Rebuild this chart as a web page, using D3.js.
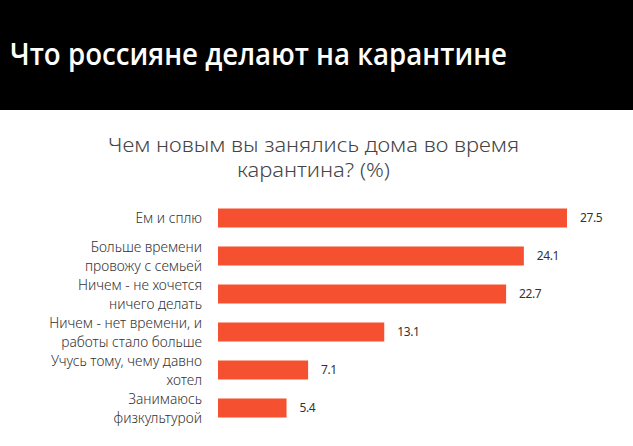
<!DOCTYPE html>
<html lang="ru">
<head>
<meta charset="UTF-8">
<title>Что россияне делают на карантине</title>
<script src="https://cdnjs.cloudflare.com/ajax/libs/d3/7.8.5/d3.min.js"></script>
<style>
    body { margin: 0; background: #fff; }
    svg { display: block; font-family: "Noto Sans", "Open Sans", sans-serif; }
</style>
</head>
<body>
<div id="chart"></div>
<script>
    // данные
    const categories = [
        ['Ем и сплю'],
        ['Больше времени', 'провожу с семьей'],
        ['Ничем - не хочется', 'ничего делать'],
        ['Ничем - нет времени, и', 'работы стало больше'],
        ['Учусь тому, чему давно', 'хотел'],
        ['Занимаюсь', 'физкультурой']
    ];
    const values = [27.5, 24.1, 22.7, 13.1, 7.1, 5.4];
    const title = 'Что россияне делают на карантине';
    const subtitle = ['Чем новым вы занялись дома во время', 'карантина? (%)'];
    const subtitleWidths = [411, 153];

    const width = 633;
    const height = 446;
    const margin = {top: 199, left: 218, bottom: 8};

    const svg = d3.select('#chart')
        .append('svg')
        .attr('width', width)
        .attr('height', height);

    // шапка
    svg.append('rect')
        .attr('x', 0).attr('y', 0)
        .attr('width', width).attr('height', 110)
        .attr('fill', '#000');

    svg.append('text')
        .attr('x', 10).attr('y', 65)
        .attr('fill', '#fff')
        .attr('font-family', '"Open Sans", "Noto Sans", sans-serif')
        .attr('font-size', 30)
        .attr('font-weight', 600)
        .attr('textLength', 497)
        .attr('lengthAdjust', 'spacingAndGlyphs')
        .text(title);

    svg.selectAll('.sub')
        .data(subtitle)
        .enter()
        .append('text')
        .attr('class', 'sub')
        .attr('x', (d, i) => 313.5 - subtitleWidths[i] / 2)
        .attr('y', (d, i) => 152 + i * 25)
        .attr('fill', '#444')
        .attr('font-size', 20)
        .attr('font-weight', 300)
        .attr('textLength', (d, i) => subtitleWidths[i])
        .attr('lengthAdjust', 'spacingAndGlyphs')
        .text(d => d);

    const x = d3.scaleLinear()
        .domain([0, 27.5])
        .range([margin.left, 567]);

    const y = d3.scaleBand()
        .domain(d3.range(values.length))
        .range([margin.top, margin.top + 38 * values.length])
        .paddingInner(0.5)
        .paddingOuter(0.25);

    svg.selectAll('.bar')
        .data(values)
        .enter()
        .append('rect')
        .attr('class', 'bar')
        .attr('x', x(0))
        .attr('y', (d, i) => y(i))
        .attr('width', d => x(d) - x(0))
        .attr('height', y.bandwidth())
        .attr('fill', '#f5502f');

    svg.selectAll('.val')
        .data(values)
        .enter()
        .append('text')
        .attr('class', 'val')
        .attr('x', d => x(d) + 13)
        .attr('y', (d, i) => y(i) + y.bandwidth() / 2)
        .attr('dy', '0.35em')
        .attr('fill', '#333')
        .attr('font-size', 12)
        .attr('letter-spacing', -0.4)
        .text(d => d);

    const lab = svg.selectAll('.lab')
        .data(categories)
        .enter()
        .append('text')
        .attr('class', 'lab')
        .attr('text-anchor', 'end')
        .attr('fill', '#333')
        .attr('font-size', 13.8)
        .attr('font-weight', 300)
        .attr('y', (d, i) => y(i) + y.bandwidth() / 2 + 5);

    lab.selectAll('tspan')
        .data(d => d.map((s, j) => ({s, j, n: d.length})))
        .enter()
        .append('tspan')
        .attr('x', 202)
        .attr('dy', d => d.j === 0 ? -(d.n - 1) * 9.5 : 19)
        .text(d => d.s);
</script>
</body>
</html>
